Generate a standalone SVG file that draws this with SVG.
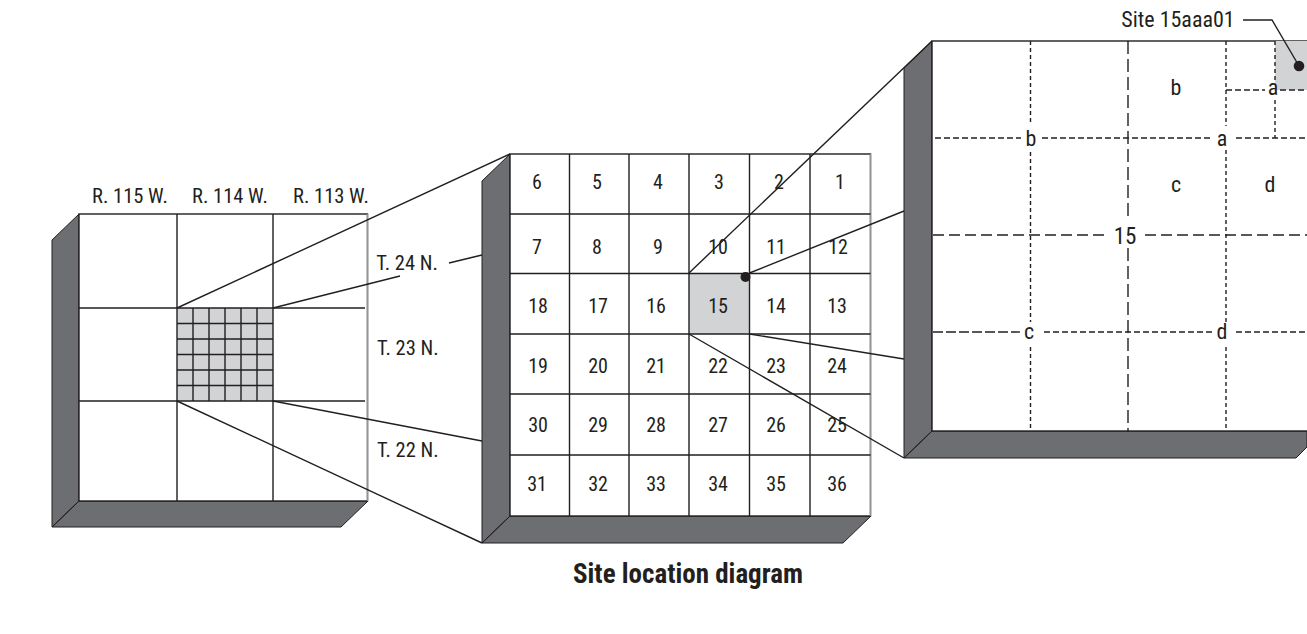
<svg xmlns="http://www.w3.org/2000/svg" width="1307" height="634" viewBox="0 0 1307 634">
<style>
text{font-family:"Liberation Sans Narrow","Roboto Condensed","Liberation Sans",sans-serif;font-size:20px;fill:#231f20;text-anchor:middle}
.st{text-anchor:start}
.lb{font-size:20.500px}
.big{font-size:22px}
.title{font-size:27px;font-weight:bold}
.side{fill:#6d6e71;stroke:#231f20;stroke-width:1}
.ln{stroke:#231f20;stroke-width:1.4;fill:none}
.face{fill:#fff;stroke:#231f20;stroke-width:1.4}
.edge{stroke:#939598;stroke-width:1.4;fill:none}
.gray{fill:#d1d3d4}
.long{stroke:#231f20;stroke-width:1.4;stroke-dasharray:11 5;fill:none}
.longv{stroke:#231f20;stroke-width:1.4;stroke-dasharray:13 5;fill:none}
.med{stroke:#231f20;stroke-width:1.4;stroke-dasharray:10 3;fill:none}
.short{stroke:#231f20;stroke-width:1.4;stroke-dasharray:6 3;fill:none}
.shortv{stroke:#231f20;stroke-width:1.4;stroke-dasharray:4 3;fill:none}
</style>
<rect width="1307" height="634" fill="#fff"/>
<g id="township-block">
<path class="side" d="M79 214L52 240V527L79 501ZM52 527L79 501H368L341 527Z"/>
<rect class="face" x="79" y="214" width="288.500" height="287"/>
<path class="edge" d="M367.500 214V501"/>
<rect class="gray" x="177" y="308" width="96" height="93"/>
<path class="ln" d="M177 214V501M273 214V501M79 308H365M79 401H365"/>
<path class="ln" d="M193 308V401M209 308V401M225 308V401M241 308V401M257 308V401M177 323.500H273M177 339H273M177 354.500H273M177 370H273M177 385.500H273"/>
<text class="lb" x="130" y="203">R. 115 W.</text>
<text class="lb" x="230" y="203">R. 114 W.</text>
<text class="lb" x="331" y="203">R. 113 W.</text>
<text class="lb" x="407" y="270">T. 24 N.</text>
<text class="lb st" x="377" y="355">T. 23 N.</text>
<text class="lb st" x="377" y="457">T. 22 N.</text>
</g>
<g id="township-grid">
<path class="side" d="M510 154L482 181V543L510 516ZM482 543L510 516H871L843 543Z"/>
<rect class="face" x="510" y="154" width="360.500" height="362"/>
<path class="edge" d="M870.500 154V516"/>
<rect class="gray" x="689" y="273.500" width="60.500" height="60.500"/>
<path class="ln" d="M569.500 154V516M629 154V516M689 154V516M749.500 154V516M810 154V516M510 214H870.500M510 273.500H870.500M510 334H870.500M510 394H870.500M510 455H870.500"/>
<text x="537" y="189">6</text><text x="597" y="189">5</text><text x="658" y="189">4</text><text x="719" y="189">3</text><text x="779" y="189">2</text><text x="840" y="189">1</text>
<text x="537" y="254">7</text><text x="597" y="254">8</text><text x="658" y="254">9</text><text x="718" y="254">10</text><text x="776" y="254">11</text><text x="838" y="254">12</text>
<text x="538" y="313">18</text><text x="598" y="313">17</text><text x="656" y="313">16</text><text x="718" y="313">15</text><text x="776" y="313">14</text><text x="837" y="313">13</text>
<text x="538" y="373">19</text><text x="598" y="373">20</text><text x="656" y="373">21</text><text x="718" y="373">22</text><text x="776" y="373">23</text><text x="837" y="373">24</text>
<text x="538" y="432">30</text><text x="598" y="432">29</text><text x="656" y="432">28</text><text x="718" y="432">27</text><text x="776" y="432">26</text><text x="837" y="432">25</text>
<text x="537" y="491">31</text><text x="598" y="491">32</text><text x="656" y="491">33</text><text x="718" y="491">34</text><text x="776" y="491">35</text><text x="837" y="491">36</text>
</g>
<g id="section-detail">
<path class="side" d="M932 41L904 68V458L932 431ZM904 458L932 431H1307V447L1296 458Z"/>
<rect class="face" x="932" y="41" width="376" height="390"/>
<rect class="gray" x="1275" y="41" width="32" height="49"/>
<path class="longv" d="M1128 41V218M1128 248V431"/>
<path class="long" d="M933 235H1108M1145 235H1307"/>
<path class="shortv" d="M1030.500 41V125M1030.500 152V322M1030.500 347V431M1226 41V126M1226 150V322M1226 347V431M1275 41V80M1275 100V138"/>
<path class="short" d="M935 138H1021M1042 138H1213M1236 138H1307M1044 332H1212M1236 332H1307M1226 90H1265M1280 90H1307"/>
<path class="med" d="M933 332H1020"/>
<text class="big" x="1176" y="95">b</text>
<text class="big" x="1176" y="192">c</text>
<text class="big" x="1270" y="192">d</text>
<text class="big" x="1273" y="95">a</text>
<text class="big" x="1031" y="146">b</text>
<text class="big" x="1222" y="146">a</text>
<text class="big" x="1029" y="339">c</text>
<text class="big" x="1222" y="339">d</text>
<text x="1125" y="244" style="font-size:23px">15</text>
<text class="big" x="1178" y="27">Site 15aaa01</text>
</g>
<g id="connectors">
<path class="ln" d="M177 308L510 154M273 308L400 276M449 263L482 255M177 401L482 543M273 401L482 441"/>
<path class="ln" d="M689 273L932 41M749.500 273L904 211M689 334L904 458M749.500 334L904 359"/>
<path class="ln" d="M1243 20H1272L1299 66"/>
<circle cx="745.500" cy="277" r="5" fill="#231f20"/>
<circle cx="1299" cy="66" r="5.300" fill="#231f20"/>
</g>
<text class="title" x="688" y="583">Site location diagram</text>
</svg>
